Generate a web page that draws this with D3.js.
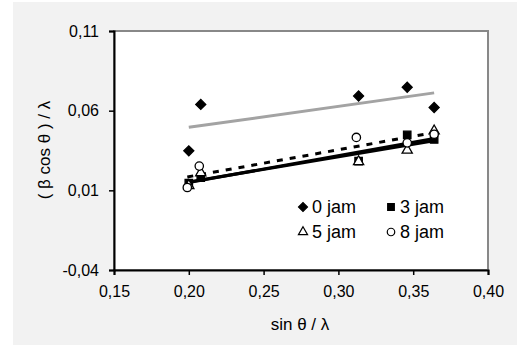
<!DOCTYPE html>
<html>
<head>
<meta charset="utf-8">
<script src="https://cdn.jsdelivr.net/npm/d3@7"></script>
<style>
  body { margin: 0; background: #fff; }
  text { font-family: "Liberation Sans", Arial, sans-serif; fill: #000; }
</style>
</head>
<body>
<div id="chart-area"></div>
<script>
// x positions (sin θ / λ) shared by the series
const xJam0 = [0.200, 0.208, 0.3135, 0.346, 0.364];
const xJam8 = [0.199, 0.207, 0.312, 0.346, 0.364];

// (β cos θ) / λ for each series
const yJam0 = [0.0348, 0.0639, 0.0692, 0.0747, 0.0620];
const yJam3 = [0.0145, 0.0180, 0.0283, 0.0448, 0.0419];
const yJam5 = [0.0130, 0.0210, 0.0280, 0.0352, 0.0473];
const yJam8 = [0.0118, 0.0252, 0.0432, 0.0398, 0.0452];

const seriesNames = ["0 jam", "3 jam", "5 jam", "8 jam"];
const xTicks = [0.15, 0.20, 0.25, 0.30, 0.35, 0.40];
const yTicks = [-0.04, 0.01, 0.06, 0.11];

// diamond = square turned 45 degrees
const series = [
  { name: seriesNames[0], xs: xJam0, ys: yJam0, symbol: d3.symbolSquare, rot: 45, fill: "#000", size: 50, line: { stroke: "#a3a3a3", width: 3, dash: null } },
  { name: seriesNames[1], xs: xJam0, ys: yJam3, symbol: d3.symbolSquare, rot: 0, fill: "#000", size: 55, line: { stroke: "#000", width: 3, dash: null } },
  { name: seriesNames[2], xs: xJam0, ys: yJam5, symbol: d3.symbolTriangle, rot: 0, fill: "#fff", size: 45, line: { stroke: "#000", width: 3, dash: null } },
  { name: seriesNames[3], xs: xJam8, ys: yJam8, symbol: d3.symbolCircle, rot: 0, fill: "#fff", size: 55, line: { stroke: "#000", width: 3, dash: "6,7" } }
];

const svgWidth = 517;
const svgHeight = 347;
const margin = { top: 31, left: 114, right: 29, bottom: 77 };
const chartWidth = svgWidth - margin.left - margin.right;
const chartHeight = svgHeight - margin.top - margin.bottom;

const svg = d3.select("#chart-area")
  .append("svg")
  .attr("width", svgWidth)
  .attr("height", svgHeight);

// grey chart background
svg.append("rect")
  .attr("x", 13).attr("y", 2)
  .attr("width", 504).attr("height", 343)
  .attr("fill", "#f2f2f2");

const g = svg.append("g").attr("transform", `translate(${margin.left},${margin.top})`);

const x = d3.scaleLinear().domain([0.15, 0.40]).range([0, chartWidth]);
const y = d3.scaleLinear().domain([-0.04, 0.11]).range([chartHeight, 0]);

// plot area
g.append("rect")
  .attr("width", chartWidth).attr("height", chartHeight)
  .attr("fill", "#fff")
  .attr("stroke", "#888").attr("stroke-width", 2);

// comma decimals, plain hyphen for minus
const fmt = d => (d < 0 ? "-" : "") + Math.abs(d).toFixed(2).replace(".", ",");

const xAxis = g.append("g")
  .attr("transform", `translate(0,${chartHeight})`)
  .call(d3.axisBottom(x).tickValues(xTicks).tickFormat(fmt).tickSize(5).tickPadding(8));

const yAxis = g.append("g")
  .call(d3.axisLeft(y).tickValues(yTicks).tickFormat(fmt).tickSize(5).tickPadding(10));

[xAxis, yAxis].forEach(a => {
  a.select(".domain").attr("stroke", "#000").attr("stroke-width", 2);
  a.selectAll(".tick line").attr("stroke", "#000").attr("stroke-width", 1.5);
  a.selectAll(".tick text")
    .attr("font-family", "Liberation Sans, Arial, sans-serif")
    .attr("font-size", 16).attr("fill", "#000");
});
xAxis.selectAll(".tick text").attr("dy", "0.9em");

// linear trendlines (least squares, like the spreadsheet)
function fit(xs, ys) {
  const mx = d3.mean(xs), my = d3.mean(ys);
  const sxy = d3.sum(xs, (v, i) => (v - mx) * (ys[i] - my));
  const sxx = d3.sum(xs, v => (v - mx) * (v - mx));
  const b = sxy / sxx;
  return v => my + b * (v - mx);
}

series.forEach(s => {
  const f = fit(s.xs, s.ys);
  const x0 = d3.min(s.xs), x1 = d3.max(s.xs);
  g.append("line")
    .attr("x1", x(x0)).attr("y1", y(f(x0)))
    .attr("x2", x(x1)).attr("y2", y(f(x1)))
    .attr("stroke", s.line.stroke)
    .attr("stroke-width", s.line.width)
    .attr("stroke-dasharray", s.line.dash);
});

// markers
series.forEach(s => {
  g.selectAll(null)
    .data(s.xs.map((v, i) => [v, s.ys[i]]))
    .enter()
    .append("path")
    .attr("d", d3.symbol().type(s.symbol).size(s.size))
    .attr("transform", d => `translate(${x(d[0])},${y(d[1])}) rotate(${s.rot})`)
    .attr("fill", s.fill)
    .attr("stroke", "#000")
    .attr("stroke-width", 1.3);
});

// legend
const legend = g.append("g").attr("transform", "translate(189,176)");
series.forEach((s, i) => {
  const lx = (i % 2) * 88;
  const ly = Math.floor(i / 2) * 25;
  legend.append("path")
    .attr("d", d3.symbol().type(s.symbol).size(s.size * 0.8))
    .attr("transform", `translate(${lx},${ly}) rotate(${s.rot})`)
    .attr("fill", s.fill)
    .attr("stroke", "#000")
    .attr("stroke-width", 1.2);
  legend.append("text")
    .attr("x", lx + 9).attr("y", ly)
    .attr("dy", "0.36em")
    .attr("font-size", 18)
    .text(s.name);
});

// axis titles
svg.append("text")
  .attr("x", 300).attr("y", 330)
  .attr("text-anchor", "middle")
  .attr("font-size", 17)
  .text("sin θ / λ");

svg.append("text")
  .attr("transform", "translate(50,150) rotate(-90)")
  .attr("text-anchor", "middle")
  .attr("font-size", 17)
  .text("( β cos θ ) / λ");
</script>
</body>
</html>
